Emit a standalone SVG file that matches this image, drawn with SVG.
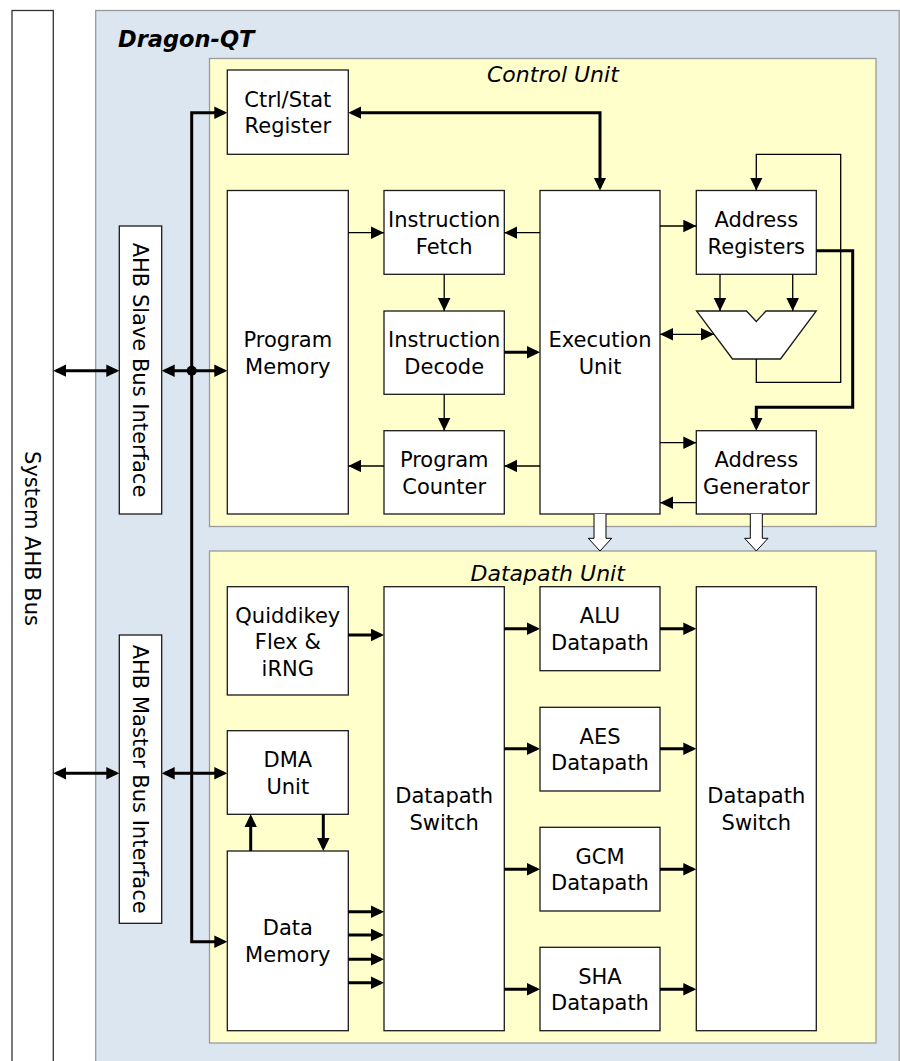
<svg xmlns="http://www.w3.org/2000/svg" width="900" height="1061" viewBox="0 0 900 1061">
<style>
.box{fill:#fff;stroke:#1a1a1a;stroke-width:1.3}
.t{font-family:"DejaVu Sans",sans-serif;font-size:21px;fill:#000;text-anchor:middle}
.lbl{font-family:"DejaVu Sans",sans-serif;font-size:22px;font-style:italic;fill:#000}
.thin{fill:none;stroke:#000;stroke-width:1.3;marker-end:url(#ah)}
.thind{fill:none;stroke:#000;stroke-width:1.3;marker-start:url(#ah);marker-end:url(#ah)}
.thick{fill:none;stroke:#000;stroke-width:3;marker-end:url(#ahk)}
.thickd{fill:none;stroke:#000;stroke-width:3;marker-start:url(#ahk);marker-end:url(#ahk)}
</style>
<defs>
<marker id="ah" markerUnits="userSpaceOnUse" markerWidth="14" markerHeight="14" refX="13" refY="6.3" orient="auto-start-reverse" viewBox="0 0 14 14"><path d="M0,0 L13,6.3 L0,12.6 Z" fill="#000"/></marker>
<marker id="ahk" markerUnits="userSpaceOnUse" markerWidth="14" markerHeight="14" refX="10" refY="6.3" orient="auto-start-reverse" viewBox="0 0 14 14"><path d="M0,0 L13,6.3 L0,12.6 Z" fill="#000"/></marker>
</defs>

<g id="system-bus">
<rect x="12" y="10.5" width="41.3" height="1060" fill="#fff" stroke="#333" stroke-width="1.3"/>
<text class="t" transform="translate(32.7,538.5) rotate(90)" x="0" y="7.7">System AHB Bus</text>
</g>

<g id="dragon-qt">
<rect x="95.7" y="10.5" width="803.5" height="1060" fill="#dce6f1" stroke="#9a9a9a" stroke-width="1.3"/>
<text x="118" y="46.5" font-family="'DejaVu Sans',sans-serif" font-size="22.5" font-weight="bold" font-style="italic">Dragon-QT</text>
</g>

<g id="control-unit">
<rect x="209.5" y="58.5" width="666.5" height="468" fill="#ffffcc" stroke="#9a9a9a" stroke-width="1.3"/>
<text class="lbl" x="487" y="81.5">Control Unit</text>
</g>

<g id="datapath-unit">
<rect x="209.5" y="551" width="666.5" height="492" fill="#ffffcc" stroke="#9a9a9a" stroke-width="1.3"/>
<text class="lbl" x="470.5" y="580.5">Datapath Unit</text>
</g>

<g id="ahb-slave">
<rect class="box" x="119.3" y="226" width="42.4" height="288"/>
<text class="t" transform="translate(140.5,370) rotate(90)" x="0" y="7.7">AHB Slave Bus Interface</text>
</g>
<g id="ahb-master">
<rect class="box" x="119.3" y="635" width="42.4" height="288.3"/>
<text class="t" transform="translate(140.5,779.2) rotate(90)" x="0" y="7.7">AHB Master Bus Interface</text>
</g>

<g id="ctrl-stat">
<rect class="box" x="227.3" y="70" width="121" height="84.3"/>
<text class="t" x="287.8" y="106.7">Ctrl/Stat</text><text class="t" x="287.8" y="133.4">Register</text>
</g>
<g id="program-memory">
<rect class="box" x="227.3" y="190.5" width="121" height="323.5"/>
<text class="t" x="287.8" y="346.8">Program</text><text class="t" x="287.8" y="373.5">Memory</text>
</g>
<g id="instruction-fetch">
<rect class="box" x="384" y="190.5" width="120.3" height="83.8"/>
<text class="t" x="444.2" y="227">Instruction</text><text class="t" x="444.2" y="253.7">Fetch</text>
</g>
<g id="instruction-decode">
<rect class="box" x="384" y="311" width="120.3" height="83.3"/>
<text class="t" x="444.2" y="347.2">Instruction</text><text class="t" x="444.2" y="373.9">Decode</text>
</g>
<g id="program-counter">
<rect class="box" x="384" y="430.7" width="120.3" height="83.3"/>
<text class="t" x="444.2" y="466.8">Program</text><text class="t" x="444.2" y="493.5">Counter</text>
</g>
<g id="execution-unit">
<rect class="box" x="540" y="190.5" width="120" height="323.5"/>
<text class="t" x="600" y="346.8">Execution</text><text class="t" x="600" y="373.5">Unit</text>
</g>
<g id="address-registers">
<rect class="box" x="696.3" y="190.5" width="120" height="83.8"/>
<text class="t" x="756.3" y="227">Address</text><text class="t" x="756.3" y="253.7">Registers</text>
</g>
<g id="address-adder">
<path class="box" d="M696.5,311 L746.5,311 L756.3,321.5 L766,311 L816.3,311 L780.5,359 L732.5,359 Z"/>
</g>
<g id="address-generator">
<rect class="box" x="696.3" y="430.7" width="120" height="83.3"/>
<text class="t" x="756.3" y="466.8">Address</text><text class="t" x="756.3" y="493.5">Generator</text>
</g>

<g id="quiddikey">
<rect class="box" x="227.3" y="586.7" width="121" height="108.3"/>
<text class="t" x="287.8" y="622.7">Quiddikey</text><text class="t" x="287.8" y="649.4">Flex &amp;</text><text class="t" x="287.8" y="676.1">iRNG</text>
</g>
<g id="dma-unit">
<rect class="box" x="227.3" y="730.7" width="121" height="83.6"/>
<text class="t" x="287.8" y="767">DMA</text><text class="t" x="287.8" y="793.7">Unit</text>
</g>
<g id="data-memory">
<rect class="box" x="227.3" y="851" width="121" height="179.7"/>
<text class="t" x="287.8" y="935.3">Data</text><text class="t" x="287.8" y="962">Memory</text>
</g>
<g id="datapath-switch-in">
<rect class="box" x="384" y="586.7" width="120.3" height="444"/>
<text class="t" x="444.2" y="803.2">Datapath</text><text class="t" x="444.2" y="829.9">Switch</text>
</g>
<g id="alu-datapath">
<rect class="box" x="540" y="586.7" width="120" height="84"/>
<text class="t" x="600" y="623.2">ALU</text><text class="t" x="600" y="649.9">Datapath</text>
</g>
<g id="aes-datapath">
<rect class="box" x="540" y="707.3" width="120" height="83.7"/>
<text class="t" x="600" y="743.7">AES</text><text class="t" x="600" y="770.4">Datapath</text>
</g>
<g id="gcm-datapath">
<rect class="box" x="540" y="827.3" width="120" height="83.7"/>
<text class="t" x="600" y="863.7">GCM</text><text class="t" x="600" y="890.4">Datapath</text>
</g>
<g id="sha-datapath">
<rect class="box" x="540" y="947.3" width="120" height="83.4"/>
<text class="t" x="600" y="983.5">SHA</text><text class="t" x="600" y="1010.2">Datapath</text>
</g>
<g id="datapath-switch-out">
<rect class="box" x="696.3" y="586.7" width="120" height="444"/>
<text class="t" x="756.3" y="803.2">Datapath</text><text class="t" x="756.3" y="829.9">Switch</text>
</g>

<g id="connectors">
<path class="thickd" d="M351.3,112.7 H600 V187.5"/>
<path class="thickd" d="M224.3,112.7 H191.7 V941.7 H224.3"/>
<circle cx="191.7" cy="370.7" r="5" fill="#000"/>
<path class="thickd" d="M56.3,370.7 H116.3"/>
<path class="thickd" d="M164.7,370.7 H224.3"/>
<path class="thickd" d="M56.3,773.3 H116.3"/>
<path class="thickd" d="M164.7,773.3 H224.3"/>
<path class="thick" d="M504.3,352.3 H537"/>
<path class="thick" d="M816.3,250.7 H852.7 V407.3 H756.3 V427.7"/>
<path class="thick" d="M348.3,635 H381"/>
<path class="thick" d="M250.7,851 V817.3"/>
<path class="thick" d="M323.3,814.3 V848"/>
<path class="thick" d="M348.3,911.7 H381"/>
<path class="thick" d="M348.3,935 H381"/>
<path class="thick" d="M348.3,959.3 H381"/>
<path class="thick" d="M348.3,982.7 H381"/>
<path class="thick" d="M504.3,628.7 H537"/>
<path class="thick" d="M504.3,748.7 H537"/>
<path class="thick" d="M504.3,869.3 H537"/>
<path class="thick" d="M504.3,989.3 H537"/>
<path class="thick" d="M660,628.7 H693.3"/>
<path class="thick" d="M660,748.7 H693.3"/>
<path class="thick" d="M660,869.3 H693.3"/>
<path class="thick" d="M660,989.3 H693.3"/>

<path class="thin" d="M348.3,232.7 H384"/>
<path class="thin" d="M540,232.7 H504.3"/>
<path class="thin" d="M444.2,274.3 V311"/>
<path class="thin" d="M444.2,394.3 V430.7"/>
<path class="thin" d="M384,466 H348.3"/>
<path class="thin" d="M540,466 H504.3"/>
<path class="thin" d="M660,226 H696.3"/>
<path class="thind" d="M660,334.3 H714"/>
<path class="thin" d="M720,274.3 V311"/>
<path class="thin" d="M792.7,274.3 V311"/>
<path class="thin" d="M756.3,359 V382.3 H840.7 V154.3 H756.3 V190.5"/>
<path class="thin" d="M660,442.7 H696.3"/>
<path class="thin" d="M696.3,502.7 H660"/>

<path d="M594,514 V538.3 H588.3 L600,551 L611.7,538.3 H606 V514" fill="#fff" stroke="#000" stroke-width="1"/>
<path d="M750.3,514 V538.3 H744.6 L756.3,551 L768,538.3 H762.3 V514" fill="#fff" stroke="#000" stroke-width="1"/>
</g>
</svg>
